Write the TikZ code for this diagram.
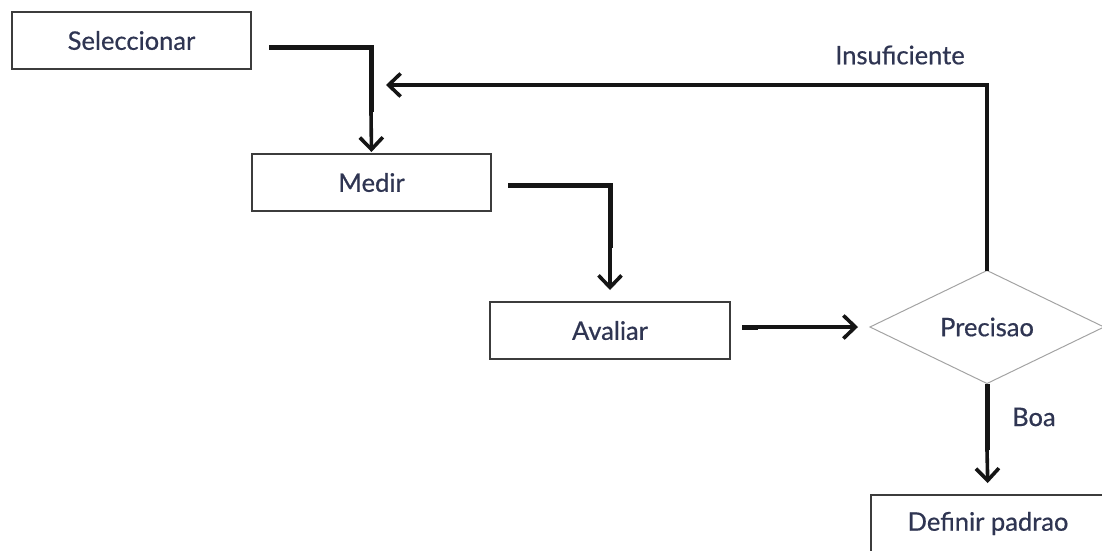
\documentclass[tikz,border=0pt]{standalone}
\usepackage{fontspec}
\setmainfont{Lato}
\newfontfamily\lblfont{Lato}[FakeBold=0.6]
\usetikzlibrary{arrows.meta,shapes.geometric,calc}

\definecolor{labelink}{HTML}{2F3552}
\definecolor{boxline}{HTML}{3C3C3C}
\definecolor{decline}{HTML}{A3A3A3}
\definecolor{flowline}{HTML}{151515}

\tikzset{
  lblfont/.style={font=\lblfont\fontsize{25.5}{30}\selectfont},
  stepbox/.style={draw=boxline, line width=1.4pt, rectangle, inner sep=0pt, outer sep=0pt,
    minimum width=239pt, minimum height=57pt, text=labelink, lblfont},
  decbox/.style={draw=decline, line width=1pt, diamond, inner sep=0pt, outer sep=0pt,
    minimum width=234pt, minimum height=113pt, text=labelink, lblfont},
  flowlbl/.style={text=labelink, inner sep=0pt, lblfont},
  heavyflow/.style={draw=flowline, line width=5pt},
  lightflow/.style={draw=flowline, line width=3.6pt,
    -{Straight Barb[length=12pt,width=23pt,line width=3.6pt]}},
}

\begin{document}
\begin{tikzpicture}[x=1pt,y=-1pt]
  \useasboundingbox (0,0) rectangle (1102,550);

  % process steps
  \node[stepbox] (sel) at (131.5,40.5) {Seleccionar};
  \node[stepbox] (med) at (371.5,182.5) {Medir};
  \node[stepbox, minimum width=240pt] (ava) at (610,330.5) {Avaliar};
  \node[decbox] (prec) at (987,327) {Precisao};
  \node[stepbox, minimum width=234pt] (def) at (988,523.5) {Definir padrao};

  % bends where the heavy stroke turns into the arrow stroke
  \coordinate (k1) at (371,112);
  \coordinate (k2) at (610,248);
  \coordinate (k3) at (758,327);
  \coordinate (k4) at (497,85);
  \coordinate (k5) at (987,450);
  \coordinate (back) at (386,85);

  % Seleccionar -> Medir
  \draw[heavyflow] ($(sel.east)+(18,6.5)$) -| (k1);
  \draw[lightflow, shorten >=2pt] (k1) -- (med.north);

  % Medir -> Avaliar
  \draw[heavyflow] ($(med.east)+(17,2.5)$) -| (k2);
  \draw[lightflow, shorten >=12pt] (k2) -- (ava.north);

  % Avaliar -> Precisao
  \draw[heavyflow] ($(ava.east)+(12,-3.5)$) -- (k3);
  \draw[lightflow, shorten >=12pt] (k3) -- (prec.west);

  % Precisao -> back to Medir (insufficient)
  \draw[heavyflow, line width=4.4pt] (prec.north) |- (k4);
  \draw[lightflow] (k4) -- (back);
  \node[flowlbl] (ins) at (900,55) {Insuficiente};

  % Precisao -> Definir padrao (good)
  \draw[heavyflow] (prec.south) -- (k5);
  \draw[lightflow, shorten >=12pt] (k5) -- (def.north);
  \node[flowlbl, anchor=west] (boa) at (1012,417) {Boa};
\end{tikzpicture}
\end{document}
